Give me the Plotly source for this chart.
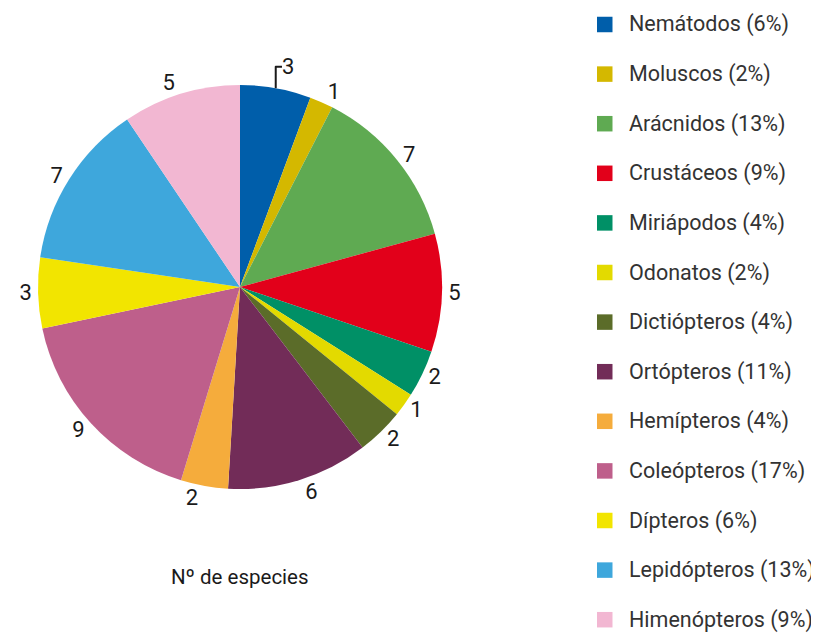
import plotly.graph_objects as go

categories = ["Nemátodos", "Moluscos", "Arácnidos", "Crustáceos", "Miriápodos", "Odonatos",
              "Dictiópteros", "Ortópteros", "Hemípteros", "Coleópteros", "Dípteros",
              "Lepidópteros", "Himenópteros"]
values = [3, 1, 7, 5, 2, 1, 2, 6, 2, 9, 3, 7, 5]
colors = ["#005EAA", "#D4B800", "#5FAA52", "#E2001A", "#009066", "#E3DA00", "#5B6C29",
          "#722C58", "#F5AC3C", "#BE5F8B", "#F2E500", "#3EA7DC", "#F2B7D2"]
title_text = "Nº de especies"

FONT = "Roboto, Liberation Sans, sans-serif"
OFF = 8                      # page body margin
W, H = 819 - OFF, 633 - OFF
total = sum(values)


def px(p):
    return (p - OFF) / W


def py(p):
    return 1 - (p - OFF) / H


fig = go.Figure()
fig.add_trace(go.Pie(
    labels=categories, values=values, sort=False, direction="clockwise", rotation=0,
    marker=dict(colors=colors, line=dict(width=0)),
    textposition="outside", texttemplate="%{value}",
    textfont=dict(family=FONT, size=22, color="#1a1a1a"),
    showlegend=False, hoverinfo="label+value",
    domain=dict(x=[px(240 - 202), px(240 + 202)], y=[py(489), py(85)]),
))

fig.add_annotation(text=title_text, x=px(240), y=py(577), xref="paper", yref="paper",
                   xanchor="center", yanchor="middle",
                   showarrow=False, font=dict(family=FONT, size=20.5, color="#1a1a1a"))

# legend drawn as shapes + annotations
for i, (cat, val, col) in enumerate(zip(categories, values, colors)):
    cy = 24.5 + i * 49.6
    fig.add_shape(type="rect", xref="paper", yref="paper",
                  x0=px(597), x1=px(612.5), y0=py(cy - 7.75), y1=py(cy + 7.75),
                  fillcolor=col, line=dict(width=0))
    fig.add_annotation(text=f"{cat} ({round(val / total * 100)}%)", x=px(627), y=py(cy),
                       xref="paper", yref="paper", xanchor="left", yanchor="middle",
                       showarrow=False, font=dict(family=FONT, size=21.5, color="#333333"))

fig.update_layout(
    width=W, height=H, margin=dict(l=0, r=0, t=0, b=0),
    paper_bgcolor="white", plot_bgcolor="white", showlegend=False,
)
fig.write_html("out.html")
